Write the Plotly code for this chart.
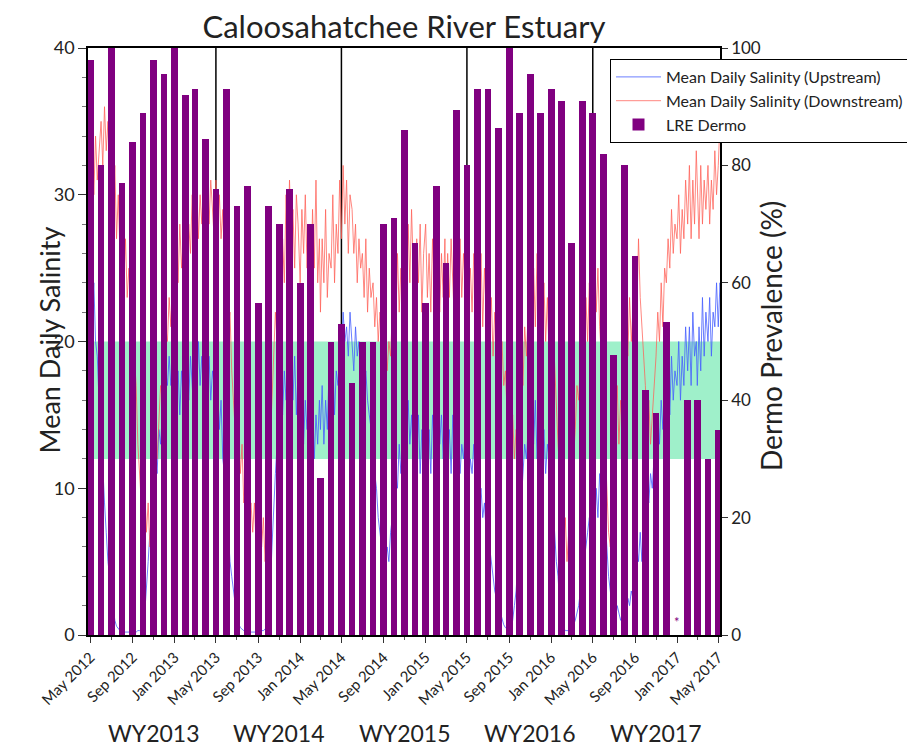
import plotly.graph_objects as go
import pandas as pd

# ---------------- data ----------------
month_starts = pd.date_range("2012-05-01", "2017-05-01", freq="MS")

# LRE Dermo prevalence (%), one value per month May 2012 .. May 2017 (Jan 2017 not sampled)
dermo_2012 = [98, 80, 100, 77, 84, 89, 98, 95.5]
dermo_2013 = [100, 92, 93, 84.5, 76, 93, 73, 76.5, 56.5, 73, 70, 76]
dermo_2014 = [60, 70, 26.7, 50, 53, 43, 50, 50, 70, 71, 86, 66.7]
dermo_2015 = [56.5, 76.5, 63.3, 89.5, 80, 93, 93, 86.3, 100, 89, 95.5, 89]
dermo_2016 = [93, 91, 66.7, 91, 89, 82, 47.7, 80, 64.5, 41.8, 37.8, 53.3]
dermo_2017 = [None, 40, 40, 30, 35]
dermo = dermo_2012 + dermo_2013 + dermo_2014 + dermo_2015 + dermo_2016 + dermo_2017

# Salinity read at days 1, 6, 11, 16, 21, 26 of each month (one row per month)
sample_days = [1, 6, 11, 16, 21, 26]

down_2012 = [29, 33, 30, 34, 31, 33,  35, 32, 36, 33, 35, 31,  33, 29, 32, 27, 30, 26,
             28, 24, 27, 23, 25, 22,  23, 19, 17, 13, 11, 9,  8, 10, 7, 9, 6, 8,
             11, 13, 12, 15, 17, 16,  19, 21, 20, 23, 21, 24]
down_2013 = [23, 27, 24, 28, 25, 27,  29, 25, 28, 26, 30, 27,  28, 31, 27, 30, 28, 31,
             29, 32, 28, 31, 29, 27,  31, 28, 30, 27, 29, 25,  24, 21, 22, 18, 16, 14,
             12, 14, 11, 13, 9, 10,  11, 8, 9, 7, 9, 6,  5, 7, 6, 8, 5, 7,
             10, 13, 16, 19, 22, 20,  25, 22, 27, 24, 30, 26,  31, 27, 29, 25, 30, 28]
down_2014 = [24, 29, 26, 30, 25, 28,  23, 29, 25, 31, 24, 27,  22, 27, 24, 29, 23, 26,
             25, 30, 24, 28, 26, 31,  27, 32, 28, 31, 26, 30,  29, 26, 28, 24, 27, 25,
             26, 23, 27, 22, 25, 23,  24, 21, 23, 20, 22, 21,  19, 21, 18, 20, 19, 22,
             24, 21, 26, 22, 25, 23,  27, 23, 28, 24, 29, 25,  23, 27, 24, 28, 22, 26]
down_2015 = [28, 23, 26, 22, 27, 24,  21, 25, 22, 26, 23, 27,  22, 26, 23, 27, 24, 21,
             25, 22, 27, 23, 26, 24,  27, 23, 25, 22, 26, 24,  27, 23, 26, 21, 25, 22,
             24, 20, 23, 19, 22, 20,  21, 18, 20, 17, 18, 15,  16, 13, 15, 12, 14, 13,
             16, 19, 17, 21, 19, 22,  24, 20, 25, 21, 26, 22,  25, 21, 24, 20, 23, 19]
down_2016 = [24, 21, 19, 16, 13, 11,  9, 6, 8, 5, 7, 6,  9, 12, 14, 17, 16, 19,
             22, 19, 23, 20, 24, 21,  23, 26, 22, 25, 21, 19,  17, 13, 10, 7, 6, 8,
             11, 14, 17, 13, 16, 14,  18, 21, 19, 23, 20, 22,  25, 22, 27, 23, 21, 19,
             17, 14, 16, 13, 15, 17,  19, 22, 20, 24, 21, 25,  24, 27, 25, 29, 26, 28]
down_2017 = [27, 30, 26, 29, 27, 31,  28, 32, 27, 31, 28, 33,  30, 27, 32, 28, 31, 29,
             32, 28, 31, 29, 33, 30,  32, 35, 31, 34, 30, 33]
salinity_down = down_2012 + down_2013 + down_2014 + down_2015 + down_2016 + down_2017

up_2012 = [25, 22, 24, 20, 19, 16,  14, 11, 9, 7, 5, 4,  3, 2, 1, 0.6, 0.4, 0.3,
           0.2, 0.2, 0.2, 0.2, 0.2, 0.2,  0.2, 0.2, 0.2, 0.3, 0.3, 0.4,
           0.8, 1.5, 3, 5, 7, 8,  10, 12, 11, 14, 13, 15,  16, 18, 17, 19, 17, 18]
up_2013 = [19, 16, 18, 15, 18, 16,  15, 18, 16, 19, 17, 15,  19, 16, 20, 17, 19, 16,
           18, 15, 19, 16, 18, 17,  15, 17, 14, 16, 12, 11,  9, 7, 5, 4, 3, 2,
           1.2, 0.8, 0.5, 0.4, 0.3, 0.3,  0.2, 0.2, 0.2, 0.2, 0.2, 0.2,
           0.2, 0.2, 0.3, 0.3, 0.4, 0.6,  1.5, 3, 6, 9, 11, 13,
           14, 17, 15, 18, 16, 19,  17, 20, 16, 19, 15, 18]
up_2014 = [14, 17, 13, 16, 14, 17,  13, 16, 12, 15, 13, 16,  14, 17, 13, 16, 14, 18,
           16, 19, 15, 18, 17, 20,  19, 22, 20, 21, 19, 22,  20, 18, 21, 19, 20, 18,
           19, 17, 18, 16, 15, 14,  13, 11, 10, 8, 7, 6,  6, 5, 6, 5, 7, 8,
           9, 11, 10, 13, 11, 14,  15, 12, 16, 13, 15, 12,  14, 12, 15, 11, 14, 12]
up_2015 = [15, 12, 14, 11, 15, 13,  12, 16, 13, 15, 12, 14,  15, 12, 14, 11, 15, 13,
           12, 14, 11, 13, 12, 14,  13, 10, 12, 11, 13, 10,  11, 9, 10, 8, 9, 7,
           8, 6, 5, 4, 3, 2.5,  2, 1.5, 1, 0.7, 0.5, 0.4,  0.3, 0.5, 1, 2, 3, 5,
           7, 9, 11, 13, 12, 14,  12, 15, 13, 16, 12, 14,  15, 12, 14, 11, 13, 12]
up_2016 = [11, 9, 7, 5, 4, 2,  1, 0.5, 0.3, 0.3, 0.3, 0.4,  0.5, 0.7, 1, 1.5, 2, 3,
           4, 5, 6, 7, 8, 7,  9, 7, 10, 8, 11, 9,  11, 8, 6, 4, 3, 2,
           1.5, 1, 2, 1.5, 1, 1.5,  2, 1.5, 2.5, 2, 3, 2.5,  4, 6, 5, 7, 5, 8,
           8, 10, 9, 11, 10, 12,  13, 15, 13, 16, 14, 17,  16, 18, 15, 19, 16, 18]
up_2017 = [17, 20, 16, 19, 17, 21,  18, 21, 17, 22, 19, 20,  17, 21, 18, 23, 19, 22,
           20, 23, 19, 22, 21, 24,  21, 24, 22, 25, 23, 24]
salinity_up = up_2012 + up_2013 + up_2014 + up_2015 + up_2016 + up_2017

water_years = ["WY2013", "WY2014", "WY2015", "WY2016", "WY2017"]
wy_centers = ["2012-11-01", "2013-11-01", "2014-11-01", "2015-11-01", "2016-11-01"]
wy_dividers = ["2013-05-01", "2014-05-01", "2015-05-01", "2016-05-01"]
target_band = (12, 20)
missing_month = "2017-01-01"

# ---------------- build ----------------
sal_dates = [m + pd.Timedelta(days=d - 1) for m in month_starts for d in sample_days]

FONT = "Lato"
TXT = "#222222"
OFF = 8  # page body margin

W, H = 915, 746
# desired plot box in screen pixels: x 88..720, y 48..635
L = 88 - OFF
T = 48 - OFF
R = W - (720 - OFF)
B = H - (635 - OFF)
pw, ph = W - L - R, H - T - B


def px_x(sx):
    return (sx - 88) / pw


def px_y(sy):
    return (635 - sy) / ph


fig = go.Figure()
fig.add_trace(go.Scatter(
    x=sal_dates, y=salinity_up, mode="lines", name="Mean Daily Salinity (Upstream)",
    line=dict(color="rgba(70,95,255,0.8)", width=1), yaxis="y"))
fig.add_trace(go.Scatter(
    x=sal_dates, y=salinity_down, mode="lines", name="Mean Daily Salinity (Downstream)",
    line=dict(color="rgba(255,95,85,0.75)", width=1), yaxis="y"))
fig.add_trace(go.Bar(
    x=month_starts, y=dermo, name="LRE Dermo",
    marker=dict(color="#800080", line=dict(width=0)),
    width=19.5 * 86400000, yaxis="y2"))

fig.add_shape(type="rect", xref="paper", yref="y", x0=0, x1=1,
              y0=target_band[0], y1=target_band[1],
              fillcolor="#9ff0ca", line=dict(width=0), layer="below")
for d in wy_dividers:
    fig.add_shape(type="line", xref="x", yref="paper", x0=d, x1=d, y0=0, y1=1,
                  line=dict(color="black", width=1.5), layer="below")

for lab, c in zip(water_years, wy_centers):
    fig.add_annotation(text=lab, x=c, xref="x", y=px_y(733), yref="paper",
                       showarrow=False, font=dict(family=FONT, size=23, color=TXT),
                       xanchor="center", yanchor="middle")

fig.add_annotation(text="Mean Daily Salinity", textangle=-90, x=px_x(30), y=px_y(340),
                   xref="paper", yref="paper", showarrow=False,
                   font=dict(family=FONT, size=27, color=TXT))
fig.add_annotation(text="Dermo Prevalence (%)", textangle=-90, x=px_x(790), y=px_y(336),
                   xref="paper", yref="paper", showarrow=False,
                   font=dict(family=FONT, size=28, color=TXT))
fig.add_annotation(text="*", x=missing_month, y=2.2, xref="x", yref="y2",
                   showarrow=False, font=dict(family=FONT, size=13, color="#800080"))

fig.update_layout(
    width=W, height=H,
    margin=dict(l=L, r=R, t=T, b=B, autoexpand=False),
    paper_bgcolor="white", plot_bgcolor="white",
    font=dict(family=FONT, color=TXT),
    showlegend=True,
    title=dict(text="Caloosahatchee River Estuary", x=px_x(404), xref="paper",
               xanchor="center", y=1 - 19 / H, yref="container",
               yanchor="middle",
               font=dict(family=FONT, size=31, color=TXT)),
    legend=dict(x=px_x(610), y=px_y(59), xanchor="left", yanchor="top",
                bgcolor="white", bordercolor="black", borderwidth=1,
                font=dict(family=FONT, size=16, color=TXT),
                tracegroupgap=0, itemwidth=45),
    bargap=0,
    xaxis=dict(type="date", range=["2012-04-24", "2017-05-06"],
               tick0="2012-05-01", dtick="M4", tickformat="%b %Y", tickangle=-45,
               ticks="outside", ticklen=6, tickcolor="#333",
               minor=dict(dtick="M2", ticks="outside", ticklen=3, tickcolor="#555"),
               showline=True, linecolor="black", linewidth=1.5, mirror=True,
               showgrid=False, zeroline=False,
               tickfont=dict(family=FONT, size=15, color=TXT)),
    yaxis=dict(range=[0, 40], tick0=0, dtick=10, ticks="outside", ticklen=8,
               tickcolor="#333",
               minor=dict(dtick=2, ticks="outside", ticklen=4, tickcolor="#777"),
               showline=True, linecolor="black", linewidth=1.5,
               showgrid=False, zeroline=False,
               tickfont=dict(family=FONT, size=18, color=TXT)),
    yaxis2=dict(range=[0, 100], tick0=0, dtick=20, overlaying="y", side="right",
                ticks="outside", ticklen=6, tickcolor="#333",
                showline=True, linecolor="black", linewidth=1.5,
                showgrid=False, zeroline=False,
                tickfont=dict(family=FONT, size=17, color=TXT)),
)

fig.write_html("out.html")
